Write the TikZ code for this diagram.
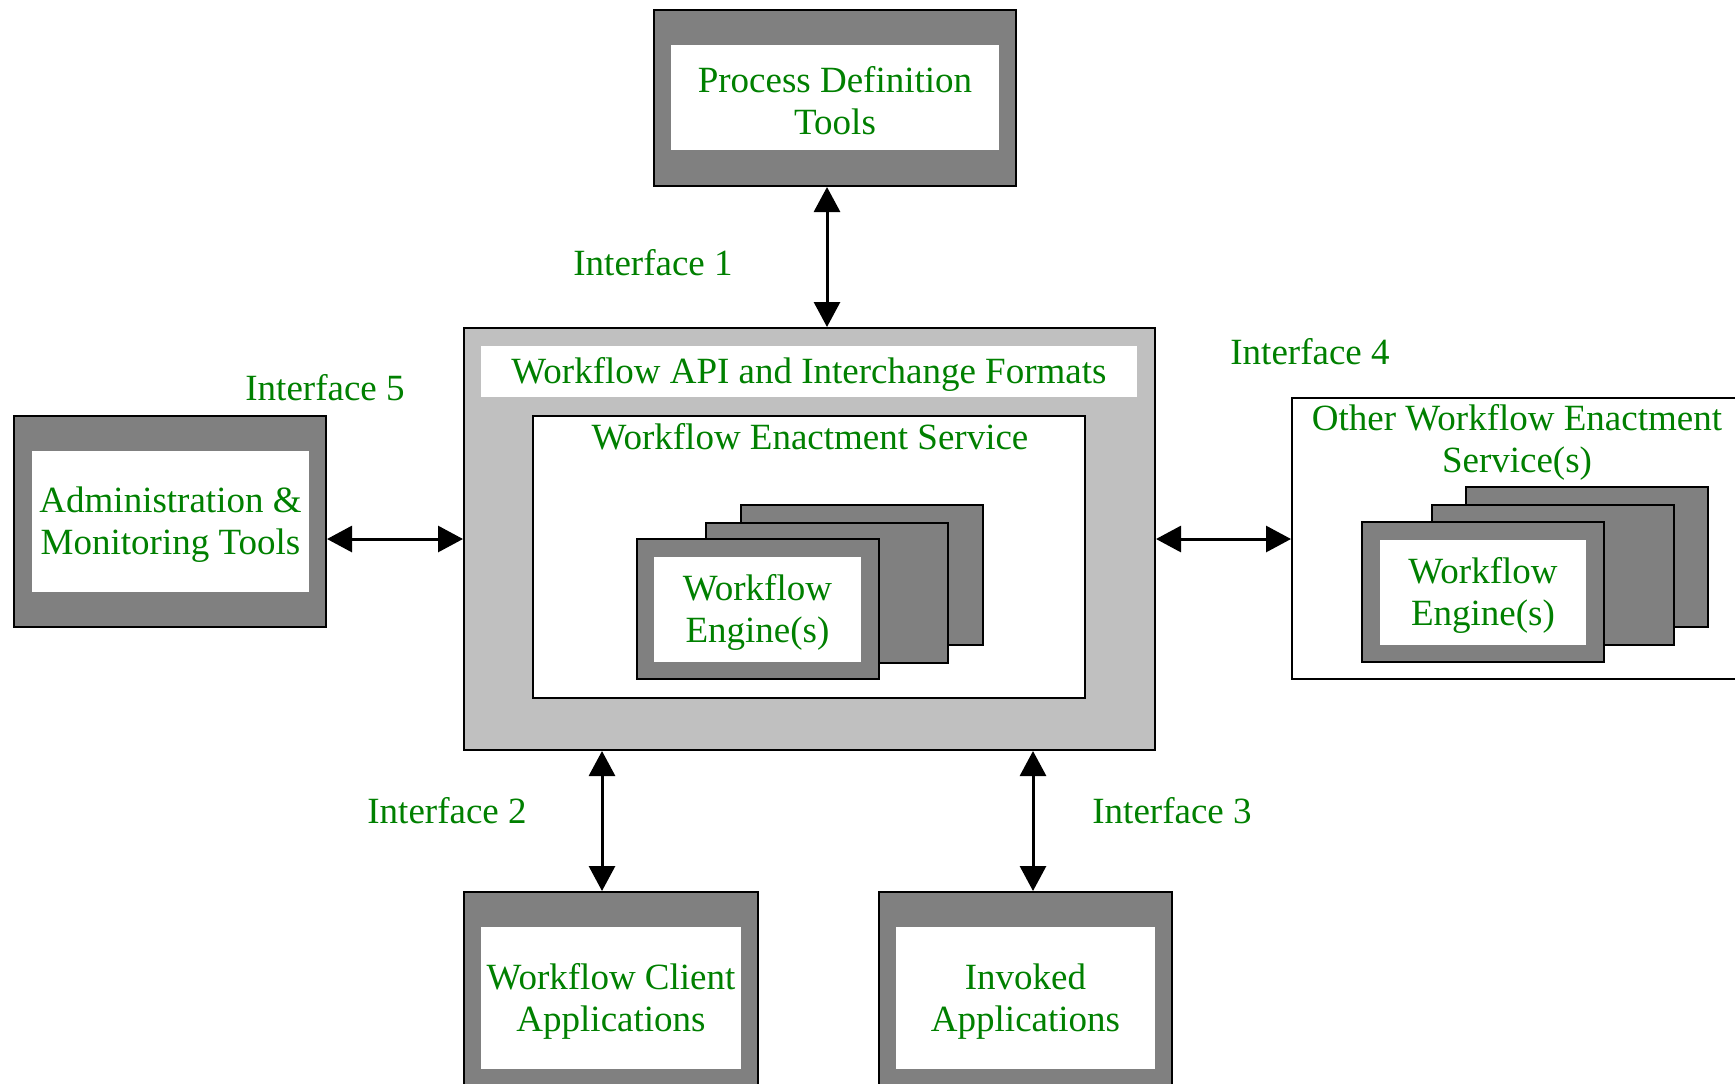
\documentclass[tikz,border=0pt]{standalone}
\usepackage{fontspec}
\setmainfont{Liberation Serif}
\usetikzlibrary{arrows.meta}
\definecolor{wfgreen}{RGB}{0,128,0}
\definecolor{darkbox}{RGB}{128,128,128}
\definecolor{lightbox}{RGB}{192,192,192}
\newcommand\topgap{\rule{0pt}{16.2pt}}
\tikzset{
  txt/.style={text=wfgreen, font=\fontsize{18.5}{21}\selectfont, align=center, inner sep=0pt},
  outerbox/.style={draw=black, line width=1pt, fill=darkbox, inner sep=0pt},
  innerbox/.style={fill=white, txt},
  biarrow/.style={line width=1.5pt, {Triangle[length=12.5pt,width=13pt]}-{Triangle[length=12.5pt,width=13pt]}}
}
\begin{document}
\begin{tikzpicture}[x=0.5pt,y=-0.5pt]
    \clip (0,0) rectangle (1735,1083);
    \fill[white] (0,0) rectangle (1735,1083);

    % process definition tools
    \node[outerbox, minimum width=181pt, minimum height=88pt] (pdt) at (835,98) {};
    \node[innerbox, minimum width=164pt, minimum height=52.5pt] (pdtin) at (835,97.5) {\topgap Process Definition\\Tools};

    % central core
    \node[draw=black, line width=1pt, fill=lightbox, minimum width=345.5pt, minimum height=211pt] (core) at (809.5,539) {};
    \node[innerbox, minimum width=328pt, minimum height=25.5pt] (api) at (809,371.5) {\topgap Workflow API and Interchange Formats};
    \node[draw=black, line width=1pt, fill=white, minimum width=276pt, minimum height=141pt] (wes) at (809,557) {};
    \node[txt, anchor=north] (westitle) at (810,423) {Workflow Enactment Service};
    \node[outerbox, minimum width=121pt, minimum height=70pt] (engc) at (861.5,574.5) {};
    \node[outerbox, minimum width=121pt, minimum height=70pt] (engb) at (826.5,592.5) {};
    \node[outerbox, minimum width=121pt, minimum height=70pt] (enga) at (757.5,609) {};
    \node[innerbox, minimum width=103.5pt, minimum height=52.5pt] (engin) at (757.5,609.5) {\topgap Workflow\\Engine(s)};

    % other enactment services
    \node[draw=black, line width=1pt, fill=white, minimum width=234pt, minimum height=140.5pt] (other) at (1526,538.5) {};
    \node[txt, anchor=north] (othertitle) at (1517,404) {Other Workflow Enactment\\Service(s)};
    \node[outerbox, minimum width=121pt, minimum height=70pt] (oengc) at (1586.5,556.5) {};
    \node[outerbox, minimum width=121pt, minimum height=70pt] (oengb) at (1552.5,574.5) {};
    \node[outerbox, minimum width=121pt, minimum height=70pt] (oenga) at (1482.5,592) {};
    \node[innerbox, minimum width=103pt, minimum height=52.5pt] (oengin) at (1483,592.5) {\topgap Workflow\\Engine(s)};

    % administration and monitoring
    \node[outerbox, minimum width=156pt, minimum height=105.5pt] (adm) at (170,521.5) {};
    \node[innerbox, minimum width=138.5pt, minimum height=70.5pt] (admin) at (170.5,521.5) {\topgap Administration \&\\Monitoring Tools};

    % client and invoked applications
    \node[outerbox, minimum width=147pt, minimum height=106pt] (client) at (611,998) {};
    \node[innerbox, minimum width=130pt, minimum height=71pt] (clientin) at (611,998) {\topgap Workflow Client\\Applications};
    \node[outerbox, minimum width=146.5pt, minimum height=106pt] (invoked) at (1025.5,998) {};
    \node[innerbox, minimum width=129.5pt, minimum height=71pt] (invokedin) at (1025.5,998) {\topgap Invoked\\Applications};

    % interfaces
    \coordinate (i1) at (827,0);
    \coordinate (i2) at (602,0);
    \coordinate (i3) at (1033,0);
    \draw[biarrow] (pdt.south -| i1) -- (core.north -| i1);
    \draw[biarrow] (core.south -| i2) -- (client.north -| i2);
    \draw[biarrow] (core.south -| i3) -- (invoked.north -| i3);
    \draw[biarrow] (core.west -| adm.east) -- (core.west);
    \draw[biarrow] (core.east) -- (core.east -| other.west);

    \node[txt] (lab1) at (653,263) {Interface 1};
    \node[txt] (lab2) at (447,811) {Interface 2};
    \node[txt] (lab3) at (1172,811) {Interface 3};
    \node[txt] (lab4) at (1310,352) {Interface 4};
    \node[txt] (lab5) at (325,388) {Interface 5};
\end{tikzpicture}
\end{document}
